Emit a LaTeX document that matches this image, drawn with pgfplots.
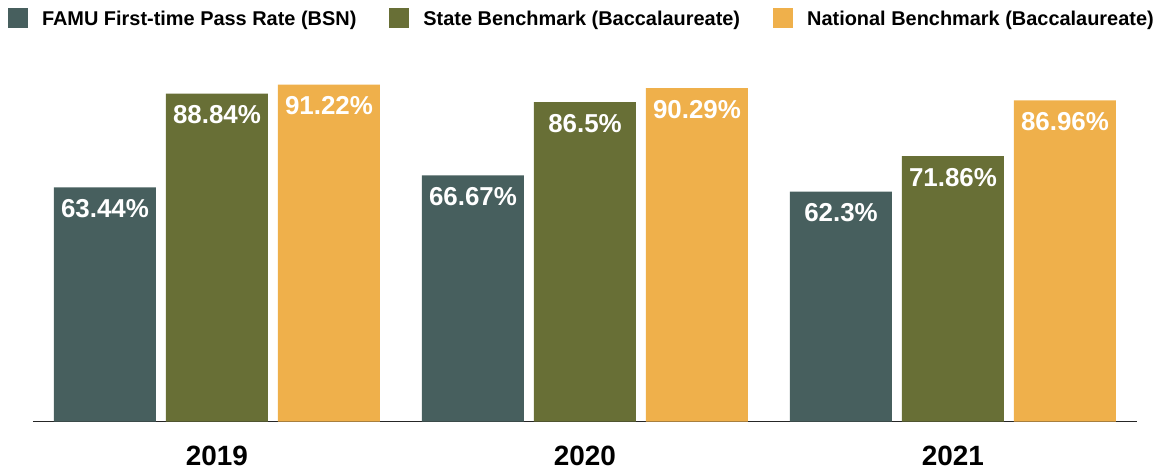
\documentclass[border=0pt]{standalone}
\usepackage{pgfplots}
\pgfplotsset{compat=1.18}
\usepackage{fontspec}
\setmainfont{Liberation Sans}

\definecolor{famu}{RGB}{71,95,94}
\definecolor{state}{RGB}{104,111,54}
\definecolor{natl}{RGB}{239,176,75}

\begin{document}
\begin{tikzpicture}
\path[use as bounding box] (0,0) rectangle (1163bp,470bp);
\begin{axis}[
    at={(33bp,48.4bp)}, anchor=south west,
    scale only axis, width=1104bp, height=369.3bp,
    xmin=-0.5, xmax=2.5, ymin=0, ymax=100,
    clip=false,
    ybar=10bp, bar width=102bp,
    legend image code/.code={\fill[#1,draw=none] (0bp,-8bp) rectangle (20bp,12bp);},
    axis y line=none, axis x line*=bottom,
    x axis line style={-, line width=1.2bp, black!85},
    xtick={0,1,2}, xticklabels={2019,2020,2021},
    major tick length=0pt,
    xticklabel style={font=\fontsize{28}{32}\selectfont\bfseries,
        inner sep=0pt, anchor=north, yshift=-24.5bp},
    /pgf/number format/assume math mode=true,
    nodes near coords={\pgfmathprintnumber[fixed,precision=2]{\pgfplotspointmeta}\%},
    every node near coord/.append style={anchor=north, yshift=-11.7bp,
        inner sep=0pt, text=white, font=\fontsize{26}{30}\selectfont\bfseries},
    legend columns=3,
    legend cell align=left,
    legend style={at={(-0.02264,1.0942)}, anchor=west, draw=none, fill=none,
        inner sep=0pt, outer sep=0pt,
        font=\fontsize{20}{24}\selectfont\bfseries,
        nodes={inner sep=0pt},
        /tikz/every odd column/.append style={column sep=14bp},
        /tikz/every even column/.append style={column sep=33bp}},
]
\addplot[fill=famu, draw=none] coordinates {(0,63.44) (1,66.67) (2,62.3)};
\addplot[fill=state, draw=none] coordinates {(0,88.84) (1,86.5) (2,71.86)};
\addplot[fill=natl, draw=none] coordinates {(0,91.22) (1,90.29) (2,86.96)};
\legend{FAMU First-time Pass Rate (BSN), State Benchmark (Baccalaureate), National Benchmark (Baccalaureate)}
\end{axis}
\end{tikzpicture}
\end{document}
